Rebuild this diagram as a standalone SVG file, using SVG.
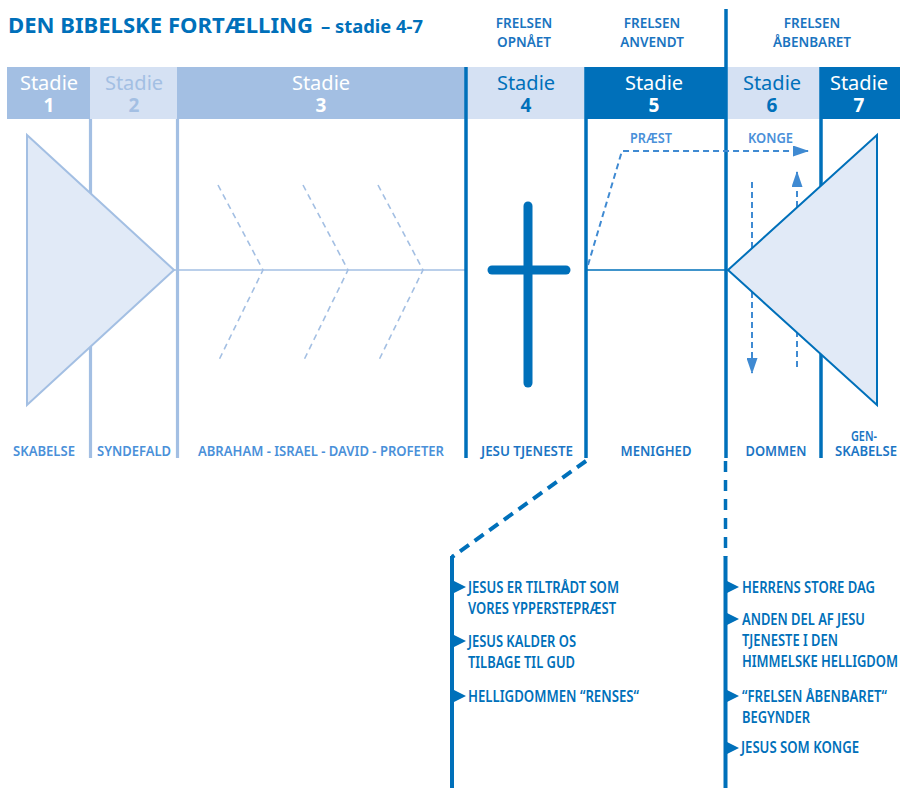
<svg xmlns="http://www.w3.org/2000/svg" width="900" height="788" viewBox="0 0 900 788">
<defs>
<style>
text{font-family:"Noto Sans","Open Sans","DejaVu Sans",sans-serif;}
.cond{font-stretch:condensed;}
.title{font-size:21px;font-weight:700;fill:#0070BA;}
.sub{font-size:17px;font-weight:700;fill:#0070BA;}
.top{font-size:13.5px;font-weight:600;fill:#1a74c0;text-anchor:middle;font-stretch:condensed;}
.st{font-size:20px;text-anchor:middle;}
.num{font-size:19px;font-weight:700;text-anchor:middle;}
.w{fill:#ffffff;}
.lb{fill:#A3BFE3;}
.db{fill:#0070BA;}
.bl{font-size:15px;font-weight:600;text-anchor:middle;font-stretch:condensed;}
.bl1{fill:#4a90d9;}
.bl2{fill:#1b75c4;}
.li{font-size:15.5px;font-weight:600;fill:#0070BA;font-stretch:condensed;}
.lite{stroke:#A3BFE3;stroke-width:3.2;fill:none;}
.dark{stroke:#0070BA;stroke-width:3.5;fill:none;}
.chev{stroke:#A3BFE3;stroke-width:1.6;fill:none;stroke-dasharray:6 4.5;}
.arr{stroke:#3f8ad2;stroke-width:2;fill:none;stroke-dasharray:6 4;}
.tag{font-size:13.5px;font-weight:600;fill:#4a90d9;font-stretch:condensed;}
.mk{fill:#0070BA;}
</style>
<marker id="ah2" viewBox="0 0 16 11" refX="15" refY="5.5" markerWidth="16" markerHeight="11" markerUnits="userSpaceOnUse" orient="auto">
<path d="M0,0 L16,5.5 L0,11 z" fill="#3f8ad2"/>
</marker>
</defs>
<rect width="900" height="788" fill="#ffffff"/>

<g id="title">
<text class="title cond" x="8" y="33" textLength="305" lengthAdjust="spacingAndGlyphs">DEN BIBELSKE FORTÆLLING</text>
<text class="sub cond" x="321" y="33" textLength="102" lengthAdjust="spacingAndGlyphs">– stadie 4-7</text>
</g>

<g id="top-labels">
<text class="top" x="524" y="28">FRELSEN</text>
<text class="top" x="524" y="47">OPNÅET</text>
<text class="top" x="652" y="28">FRELSEN</text>
<text class="top" x="652" y="47">ANVENDT</text>
<text class="top" x="812" y="28">FRELSEN</text>
<text class="top" x="812" y="47">ÅBENBARET</text>
</g>

<g id="stadie1">
<rect x="7" y="67" width="83" height="52" fill="#A3BFE3"/>
<text class="st w" x="49" y="90">Stadie</text>
<text class="num w" x="49" y="112">1</text>
</g>
<g id="stadie2">
<rect x="90" y="67" width="87" height="52" fill="#D5E1F3"/>
<text class="st lb" x="134" y="90">Stadie</text>
<text class="num lb" x="134" y="112">2</text>
</g>
<g id="stadie3">
<rect x="177" y="67" width="289" height="52" fill="#A3BFE3"/>
<text class="st w" x="321" y="90">Stadie</text>
<text class="num w" x="321" y="112">3</text>
</g>
<g id="stadie4">
<rect x="466" y="67" width="119" height="52" fill="#D5E1F3"/>
<text class="st db" x="526" y="90">Stadie</text>
<text class="num db" x="526" y="112">4</text>
</g>
<g id="stadie5">
<rect x="585" y="67" width="141" height="52" fill="#0070BA"/>
<text class="st w" x="654" y="90">Stadie</text>
<text class="num w" x="654" y="112">5</text>
</g>
<g id="stadie6">
<rect x="726" y="67" width="95" height="52" fill="#D5E1F3"/>
<text class="st db" x="772" y="90">Stadie</text>
<text class="num db" x="772" y="112">6</text>
</g>
<g id="stadie7">
<rect x="821" y="67" width="79" height="52" fill="#0070BA"/>
<text class="st w" x="859" y="90">Stadie</text>
<text class="num w" x="859" y="112">7</text>
</g>

<g id="connectors">
<line class="lite" x1="90.5" y1="119" x2="90.5" y2="458"/>
<line class="lite" x1="177.5" y1="119" x2="177.5" y2="458"/>
<line x1="174" y1="270" x2="465" y2="270" stroke="#A3BFE3" stroke-width="1.6"/>
<line class="dark" x1="466" y1="67" x2="466" y2="458"/>
<line class="dark" x1="586" y1="67" x2="586" y2="458"/>
<line class="dark" x1="726" y1="9" x2="726" y2="458"/>
<line class="dark" x1="821" y1="67" x2="821" y2="458"/>
<line x1="586" y1="270" x2="728" y2="270" stroke="#0070BA" stroke-width="1.6"/>
<path class="chev" d="M218,185 L263,270 L218,362"/>
<path class="chev" d="M303,185 L348,270 L303,362"/>
<path class="chev" d="M378,185 L423,270 L378,362"/>
<path class="arr" d="M588,265 L622,151 L808,151" marker-end="url(#ah2)"/>
<line class="arr" x1="752" y1="182" x2="752" y2="373" marker-end="url(#ah2)"/>
<line class="arr" x1="797" y1="367" x2="797" y2="172" marker-end="url(#ah2)"/>
<line x1="586" y1="461" x2="452" y2="557" stroke="#0070BA" stroke-width="4" stroke-dasharray="11 7"/>
<line x1="725.5" y1="461" x2="725.5" y2="557" stroke="#0070BA" stroke-width="3.5" stroke-dasharray="11 8"/>
<line x1="452" y1="556" x2="452" y2="788" stroke="#0070BA" stroke-width="4"/>
<line x1="725.5" y1="556" x2="725.5" y2="788" stroke="#0070BA" stroke-width="4"/>
</g>

<g id="creation">
<path d="M27,135 L174,270 L27,405 Z" fill="#E1EAF7" stroke="#A3BFE3" stroke-width="2"/>
</g>
<g id="cross">
<line x1="528" y1="206" x2="528" y2="383" stroke="#0070BA" stroke-width="9" stroke-linecap="round"/>
<line x1="492" y1="270" x2="566" y2="270" stroke="#0070BA" stroke-width="9" stroke-linecap="round"/>
</g>
<g id="recreation">
<path d="M728,270 L877,135 L877,405 Z" fill="#E1EAF7" stroke="#0070BA" stroke-width="2"/>
</g>

<g id="tags">
<text class="tag" x="630" y="143" textLength="42" lengthAdjust="spacingAndGlyphs">PRÆST</text>
<text class="tag" x="748" y="143" textLength="45" lengthAdjust="spacingAndGlyphs">KONGE</text>
</g>

<g id="bottom-labels">
<text class="bl bl1" x="44" y="456" textLength="62" lengthAdjust="spacingAndGlyphs">SKABELSE</text>
<text class="bl bl1" x="134" y="456" textLength="74" lengthAdjust="spacingAndGlyphs">SYNDEFALD</text>
<text class="bl bl1" x="321" y="456" textLength="246" lengthAdjust="spacingAndGlyphs">ABRAHAM - ISRAEL - DAVID - PROFETER</text>
<text class="bl bl2" x="527" y="456" textLength="92" lengthAdjust="spacingAndGlyphs">JESU TJENESTE</text>
<text class="bl bl2" x="656" y="456" textLength="71" lengthAdjust="spacingAndGlyphs">MENIGHED</text>
<text class="bl bl2" x="776" y="456" textLength="61" lengthAdjust="spacingAndGlyphs">DOMMEN</text>
<text class="bl bl2" x="864" y="441" textLength="26" lengthAdjust="spacingAndGlyphs">GEN-</text>
<text class="bl bl2" x="866" y="456" textLength="62" lengthAdjust="spacingAndGlyphs">SKABELSE</text>
</g>

<g id="list-left">
<path class="mk" d="M452,580 L466,587 L452,594 Z"/>
<path class="mk" d="M452,634 L466,641 L452,648 Z"/>
<path class="mk" d="M452,689 L466,696 L452,703 Z"/>
<text class="li" x="468" y="593" textLength="151" lengthAdjust="spacingAndGlyphs">JESUS ER TILTRÅDT SOM</text>
<text class="li" x="468" y="614" textLength="148" lengthAdjust="spacingAndGlyphs">VORES YPPERSTEPRÆST</text>
<text class="li" x="468" y="647" textLength="108" lengthAdjust="spacingAndGlyphs">JESUS KALDER OS</text>
<text class="li" x="468" y="668" textLength="107" lengthAdjust="spacingAndGlyphs">TILBAGE TIL GUD</text>
<text class="li" x="468" y="702" textLength="171" lengthAdjust="spacingAndGlyphs">HELLIGDOMMEN “RENSES“</text>
</g>

<g id="list-right">
<path class="mk" d="M725,580 L739,587 L725,594 Z"/>
<path class="mk" d="M725,612 L739,619 L725,626 Z"/>
<path class="mk" d="M725,689 L739,696 L725,703 Z"/>
<path class="mk" d="M725,741 L739,748 L725,755 Z"/>
<text class="li" x="742" y="593" textLength="133" lengthAdjust="spacingAndGlyphs">HERRENS STORE DAG</text>
<text class="li" x="742" y="625" textLength="123" lengthAdjust="spacingAndGlyphs">ANDEN DEL AF JESU</text>
<text class="li" x="742" y="646" textLength="96" lengthAdjust="spacingAndGlyphs">TJENESTE I DEN</text>
<text class="li" x="742" y="667" textLength="156" lengthAdjust="spacingAndGlyphs">HIMMELSKE HELLIGDOM</text>
<text class="li" x="742" y="702" textLength="145" lengthAdjust="spacingAndGlyphs">“FRELSEN ÅBENBARET“</text>
<text class="li" x="742" y="723" textLength="68" lengthAdjust="spacingAndGlyphs">BEGYNDER</text>
<text class="li" x="741" y="753" textLength="118" lengthAdjust="spacingAndGlyphs">JESUS SOM KONGE</text>
</g>
</svg>
